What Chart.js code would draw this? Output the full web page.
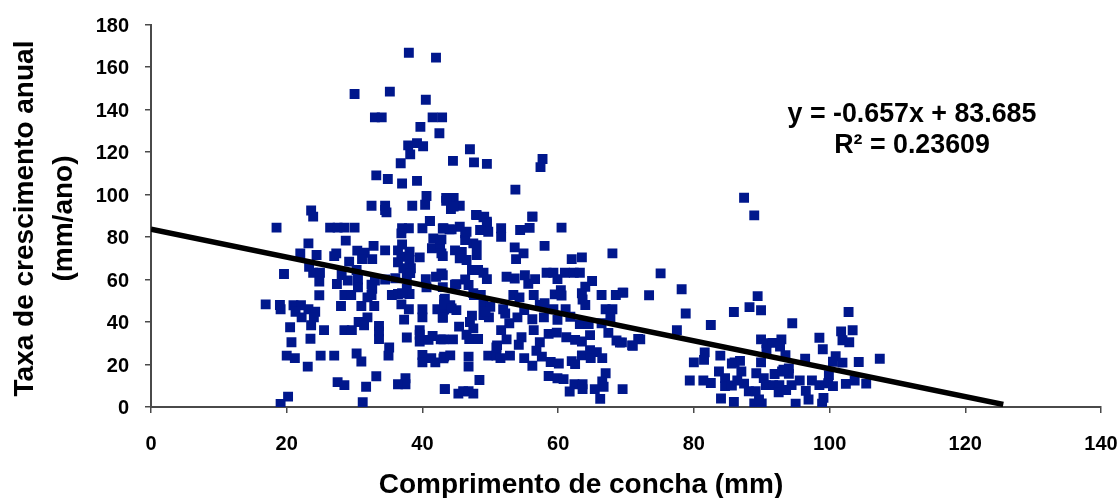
<!DOCTYPE html>
<html>
<head>
<meta charset="utf-8">
<script src="https://cdn.jsdelivr.net/npm/chart.js@4"></script>
<style>
  html, body { margin: 0; padding: 0; background: #fff; }
  canvas { display: block; }
</style>
</head>
<body>
<canvas id="chart" width="1120" height="498"></canvas>
<script>
const shellLength = [
  38.0,42.0,35.2,40.5,33.0,34.0,41.5,42.9,39.7,42.5,37.9,39.2,40.1,38.2,36.8,47.0,44.5,47.6,49.5,57.7,57.4,33.2,34.9,37.0,39.2,53.7,40.6,43.5,44.6,43.5,45.5,44.2,44.6,32.5,34.5,34.7,38.5,40.4,47.9,49.1,56.2,41.1,49.5,30.0,23.6,23.9,
  18.5,26.4,27.5,28.5,30.0,23.2,28.7,22.0,24.4,27.0,27.3,30.4,31.5,32.8,34.5,31.1,32.6,29.2,36.4,37.0,38.1,36.9,36.4,38.1,38.3,39.6,37.0,38.0,36.9,40.0,41.1,43.0,44.0,41.6,42.6,41.4,42.6,43.0,
  19.6,23.3,23.9,24.9,24.8,27.4,28.1,29.0,30.3,30.5,30.5,33.0,32.6,34.5,36.0,37.7,37.7,35.5,36.4,38.1,40.5,40.6,42.0,43.0,24.8,28.5,29.5,31.9,28.0,31.0,32.9,36.9,38.0,40.0,40.0,37.3,42.2,43.2,43.2,43.0,
  16.9,19.0,19.1,21.0,22.1,21.3,22.2,23.2,24.2,24.0,23.6,20.5,25.5,28.5,29.6,30.6,31.9,31.4,33.6,33.6,33.6,39.6,39.6,39.6,41.5,42.7,37.7,23.5,20.7,20.0,21.2,23.1,25.0,27.0,30.3,31.0,35.1,35.0,40.0,40.0,41.3,41.9,43.2,
  33.2,27.5,28.5,31.7,37.5,37.5,36.4,43.3,20.2,19.1,31.2,
  56.2,48.0,49.0,49.5,51.6,51.6,54.4,55.8,60.5,48.5,49.7,45.5,44.3,43.1,46.3,46.3,47.5,48.0,48.0,42.8,58.0,53.6,54.9,53.8,62.0,63.5,68.0,44.8,45.8,46.5,42.8,42.8,47.3,49.0,49.5,52.4,53.6,55.1,55.6,56.6,58.3,59.3,59.9,61.0,62.3,63.2,65.0,64.0,46.3,45.0,46.8,
  53.4,54.3,56.4,59.5,60.4,60.5,63.5,63.6,64.0,66.4,68.5,69.5,47.5,48.6,49.0,50.0,51.9,52.2,55.0,57.3,58.0,59.3,61.1,54.0,52.8,56.2,57.9,59.9,61.8,67.0,68.0,67.7,63.2,64.5,66.4,43.0,43.3,44.1,45.0,43.0,
  47.3,47.0,45.4,47.5,49.8,49.0,46.5,46.9,48.2,43.1,44.5,51.6,56.4,58.6,59.8,61.2,62.5,63.5,64.7,52.4,51.0,54.6,54.2,57.3,56.8,57.6,49.7,50.9,51.5,52.9,55.0,56.2,58.9,60.1,62.0,62.5,63.5,64.7,65.7,66.5,64.8,67.4,68.6,69.1,70.9,71.8,46.8,46.8,43.1,44.1,
  58.6,59.9,60.8,62.4,63.6,61.7,63.6,67.0,66.5,66.7,65.4,69.5,66.2,48.4,43.3,45.3,46.0,46.8,47.5,
  87.4,88.9,75.1,69.6,73.4,78.2,78.8,72.1,71.0,69.4,77.5,82.5,85.9,88.2,89.4,89.9,94.5,102.8,98.5,101.7,103.4,101.9,102.9,99.0,89.9,90.7,91.6,92.9,92.7,90.7,93.5,96.4,100.9,100.5,101.9,104.3,107.4,81.6,81.5,83.9,80.0,86.0,86.8,89.9,87.0,83.7,84.6,84.6,85.6,86.4,87.4,79.4,81.4,82.5,89.2,90.3,91.9,93.0,94.0,94.0,90.6,91.7,92.6,94.4,95.6,97.4,98.5,99.9,99.8,100.5,102.4,103.7,105.4,96.5,88.1,89.1,92.5,93.6,84.0,85.9,88.9,90.0,89.6,95.0,96.9,99.1,98.9,
  46.5,45.5,48.2,37.2,38.2,44.8,37.0,43.2,44.3,49.3,47.6,32.5,32.5,34.5,50.9,40.9,85.6,93.2
];
const growthRate = [
  166.7,164.4,148.4,144.6,136.3,136.3,136.3,136.3,131.8,128.8,123.1,124.2,122.7,118.9,114.7,121.3,115.8,115.1,114.4,116.7,112.9,109.0,107.3,105.2,106.4,102.3,99.3,98.4,98.4,97.0,94.7,93.2,94.3,94.7,94.7,91.6,94.7,95.2,90.4,89.6,89.6,87.5,87.2,147.3,92.5,89.6,
  84.4,84.4,84.4,84.4,84.4,77.0,78.3,72.3,71.5,71.0,72.3,73.6,72.6,75.8,73.7,69.6,69.6,68.4,73.7,76.5,73.1,70.7,68.1,69.2,65.3,70.4,84.1,84.1,81.7,84.1,87.5,84.0,83.6,79.3,77.0,74.7,75.0,71.0,
  62.6,66.0,63.2,63.2,59.0,57.9,62.1,59.5,64.5,60.0,56.3,59.5,55.6,60.0,60.6,62.0,55.8,52.7,53.2,53.2,60.2,56.3,61.3,62.0,52.6,52.7,52.7,51.6,47.5,47.5,47.5,48.3,46.0,46.0,42.2,41.1,46.0,50.4,45.8,42.2,
  48.3,48.0,46.0,47.9,47.9,44.8,42.2,46.0,44.8,42.2,38.5,37.5,36.2,36.2,36.2,40.0,42.2,38.5,38.2,35.5,32.0,36.2,34.0,30.8,33.4,31.8,32.7,32.1,30.5,24.2,23.0,19.0,24.2,24.2,25.2,21.4,28.0,24.2,24.5,21.0,23.0,21.0,23.7,
  14.5,11.7,10.3,9.5,13.5,10.7,10.7,8.4,4.9,1.4,2.3,
  89.6,90.3,89.3,86.4,84.1,80.1,83.3,84.3,84.4,83.3,82.5,84.8,83.6,84.1,81.7,78.6,77.0,71.5,76.2,78.9,75.8,75.1,72.3,69.6,69.6,70.4,72.3,73.7,73.0,69.2,72.3,62.9,64.5,63.2,60.2,61.3,60.5,62.0,58.0,60.2,63.2,63.2,60.2,63.2,63.2,63.2,59.3,56.6,60.0,57.8,57.4,
  52.7,51.6,52.7,53.0,55.0,52.5,53.5,50.6,48.0,52.7,52.7,53.8,53.6,52.7,48.0,47.2,46.0,44.0,45.6,48.0,48.8,46.0,46.0,42.2,39.4,41.3,42.2,41.0,42.5,46.0,46.0,42.2,39.0,39.0,39.4,56.4,51.0,47.9,45.6,42.0,
  43.0,40.0,37.8,37.0,42.2,43.3,34.0,32.0,32.0,31.8,31.8,36.2,36.2,34.4,35.0,32.8,31.6,30.8,33.8,31.8,29.0,32.8,29.3,30.5,26.5,23.7,24.2,24.2,23.0,24.2,23.0,19.4,21.2,20.5,21.6,20.2,24.3,26.7,25.8,23.0,23.0,34.9,31.3,30.3,29.0,32.0,23.7,19.0,22.9,24.3,
  14.6,13.5,13.1,10.7,10.7,7.3,8.4,15.9,12.0,9.5,8.4,8.4,3.8,12.7,8.4,6.3,7.4,7.4,6.3,
  98.5,90.2,62.9,53.8,52.6,55.4,44.0,31.8,28.8,30.4,36.1,38.6,44.7,47.0,52.2,45.5,39.4,44.7,32.6,35.6,36.1,31.4,30.5,27.2,31.8,30.0,30.2,31.8,28.4,26.8,24.4,22.7,23.9,21.3,20.9,21.2,22.7,25.7,22.2,24.2,21.0,21.0,21.7,21.0,16.7,16.7,13.6,9.8,10.1,12.5,11.0,12.5,12.5,11.3,15.9,13.6,15.5,16.7,18.2,15.6,10.3,10.3,10.3,10.3,12.5,12.5,10.3,15.0,11.2,9.8,10.9,12.5,11.0,7.6,7.4,7.4,6.9,8.0,4.0,2.4,1.7,1.7,3.5,1.6,3.5,4.3,1.6,
  82.5,70.0,64.5,65.3,63.0,57.5,53.5,48.3,46.4,44.9,52.7,57.6,52.7,92.7,28.0,31.6,20.5,17.5
];
const trendX = [0, 125.6];
const trendY = [83.685, 1.2];
const equationLines = ['y = -0.657x + 83.685', 'R² = 0.23609'];
const xTitle = 'Comprimento de concha (mm)';
const yTitle = ['Taxa de crescimento anual', '(mm/ano)'];

const fontFamily = '"Liberation Sans", Arial, sans-serif';
const axisColor = '#4a4a4a';

// equation and axis titles are not centred on the plot, so they are drawn by hand
const extraText = {
  id: 'extraText',
  afterDraw(chart) {
    const ctx = chart.ctx;
    ctx.save();
    ctx.fillStyle = '#000';
    ctx.textAlign = 'center';
    ctx.textBaseline = 'middle';
    ctx.font = 'bold 26.8px ' + fontFamily;
    ctx.fillText(equationLines[0], 912, 115);
    ctx.fillText(equationLines[1], 912, 146);
    ctx.font = 'bold 28px ' + fontFamily;
    ctx.fillText(xTitle, 581, 485);
    ctx.rotate(-Math.PI / 2);
    ctx.fillText(yTitle[0], -218.5, 25);
    ctx.fillText(yTitle[1], -218.5, 64);
    ctx.restore();
  }
};

new Chart(document.getElementById('chart').getContext('2d'), {
  type: 'scatter',
  data: {
    datasets: [{
      data: trendX.map((x, i) => ({ x: x, y: trendY[i] })),
      showLine: true,
      pointRadius: 0,
      borderColor: '#000',
      borderWidth: 5.5,
      borderCapStyle: 'butt',
      order: 0
    }, {
      data: shellLength.map((x, i) => ({ x: x, y: growthRate[i] })),
      pointStyle: 'rect',
      pointRadius: 7,
      pointBorderWidth: 0,
      backgroundColor: '#00178c',
      order: 1
    }]
  },
  plugins: [extraText],
  options: {
    responsive: false,
    animation: false,
    layout: { padding: { top: 24.5, right: 19, left: 0, bottom: 0 } },
    plugins: { legend: { display: false }, tooltip: { enabled: false } },
    scales: {
      x: {
        type: 'linear',
        min: 0,
        max: 140,
        afterFit(scale) {
          scale.height = 91;
          scale.paddingLeft = 0;
          scale.paddingRight = 0;
        },
        border: { color: axisColor, width: 2 },
        grid: { drawOnChartArea: false, color: axisColor, tickLength: 6, lineWidth: 1.5 },
        ticks: {
          stepSize: 20,
          padding: 19,
          maxRotation: 0,
          color: '#000',
          font: { family: fontFamily, size: 20, weight: 'bold' }
        }
      },
      y: {
        type: 'linear',
        min: 0,
        max: 180,
        afterFit(scale) {
          scale.width = 151;
          scale.paddingTop = 0;
          scale.paddingBottom = 0;
        },
        border: { color: axisColor, width: 2 },
        grid: { drawOnChartArea: false, color: axisColor, tickLength: 6, lineWidth: 1.5 },
        ticks: {
          stepSize: 20,
          padding: 16,
          labelOffset: 1.5,
          color: '#000',
          font: { family: fontFamily, size: 20, weight: 'bold' }
        }
      }
    }
  }
});
</script>
</body>
</html>
